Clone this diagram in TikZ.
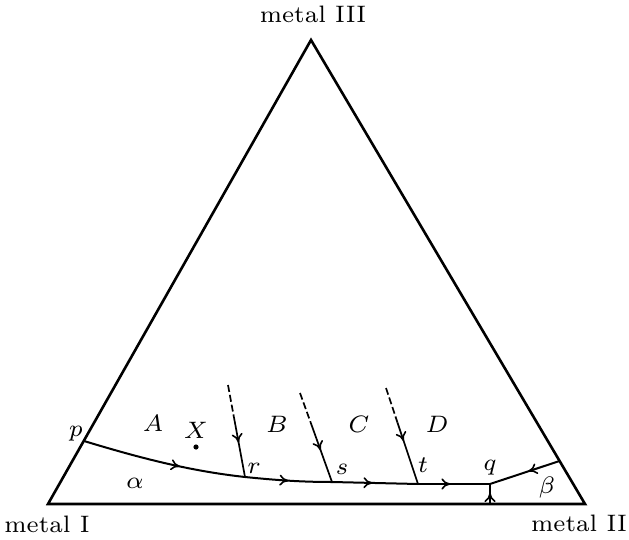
\documentclass[tikz,border=0pt]{standalone}
\usetikzlibrary{arrows.meta,decorations.markings}
\newcommand{\lbl}[1]{\scalebox{3.4}{\fontsize{7}{8}\selectfont #1}}
\begin{document}
\begin{tikzpicture}[x=1pt,y=-1pt,
  every node/.style={inner sep=0pt},
  edgeline/.style={line width=2.6pt, line join=miter},
  curveline/.style={line width=2pt},
  feeder/.style={line width=1.7pt},
  dashpart/.style={line width=1.7pt, dash pattern=on 7pt off 3pt},
  midarrow/.style={postaction={decorate},decoration={markings,mark=at position #1 with {\arrow{Computer Modern Rightarrow[length=9pt,width=11pt,line width=1.6pt]}}}}
]
\useasboundingbox (0,0) rectangle (629,540);
% vertices
\coordinate (I) at (48,504);
\coordinate (II) at (585,504);
\coordinate (III) at (311,40);
% points on curve
\coordinate (p) at (84,441);
\coordinate (r) at (245,477);
\coordinate (s) at (332,482);
\coordinate (t) at (418,484);
\coordinate (q) at (490,484);
\coordinate (e) at (559.5,461);
\coordinate (b) at (490,504);
% feeder lines
\coordinate (ra) at (228,385);
\coordinate (rb) at (233.4,414.4);
\coordinate (sa) at (300,393);
\coordinate (sb) at (311.2,424);
\coordinate (ta) at (386,388);
\coordinate (tb) at (397.5,422.6);

\draw[edgeline] (I) -- (II) -- (III) -- cycle;

\draw[curveline, midarrow=0.6] (p) .. controls (140,458) and (190,471) .. (r);
\draw[curveline, midarrow=0.5] (r) .. controls (275,480) and (300,482) .. (s);
\draw[curveline, midarrow=0.47] (s) -- (t);
\draw[curveline, midarrow=0.45] (t) -- (q);
\draw[curveline, midarrow=0.45] (e) -- (q);
\draw[feeder, midarrow=0.55] (b) -- (q);

\draw[dashpart] (ra) -- (rb);
\draw[feeder, midarrow=0.45] (rb) -- (r);
\draw[dashpart] (sa) -- (sb);
\draw[feeder, midarrow=0.45] (sb) -- (s);
\draw[dashpart] (ta) -- (tb);
\draw[feeder, midarrow=0.3] (tb) -- (t);

\fill (196,447) circle (2.6pt);

\node (lIII) at (313,14) {\lbl{metal III}};
\node (lI) at (47,524) {\lbl{metal I}};
\node (lII) at (579,523) {\lbl{metal II}};
\node (lp) at (76,434) {\lbl{$p$}};
\node (lA) at (153,423) {\lbl{$A$}};
\node (lX) at (196,430) {\lbl{$X$}};
\node (lB) at (277,424) {\lbl{$B$}};
\node (lC) at (359,424) {\lbl{$C$}};
\node (lD) at (437,424) {\lbl{$D$}};
\node (lal) at (135,483) {\lbl{$\alpha$}};
\node (lbe) at (547,488) {\lbl{$\beta$}};
\node (lr) at (254,468) {\lbl{$r$}};
\node (ls) at (342,469) {\lbl{$s$}};
\node (lt) at (423,465) {\lbl{$t$}};
\node (lq) at (490,468) {\lbl{$q$}};
\end{tikzpicture}
\end{document}
